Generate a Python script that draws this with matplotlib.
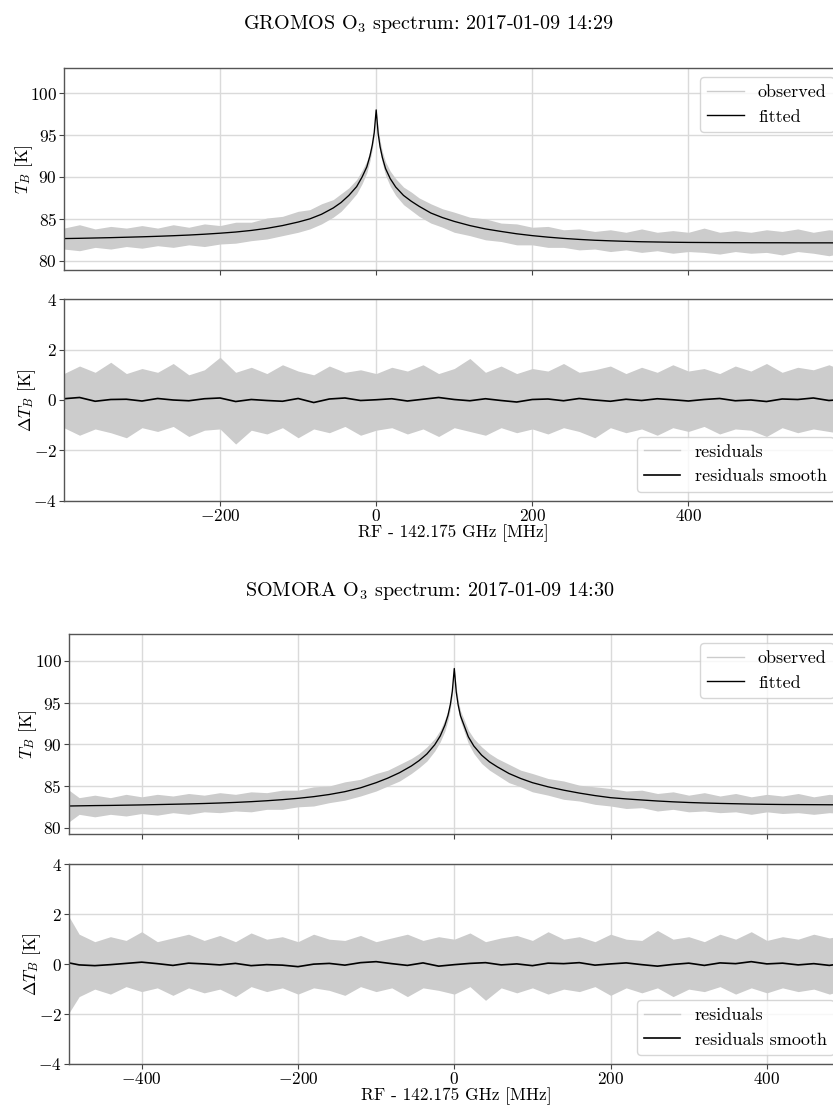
import matplotlib
matplotlib.use("Agg")
import matplotlib.pyplot as plt
from matplotlib.lines import Line2D

plt.rcParams['font.family'] = 'serif'
plt.rcParams['font.serif'] = ['cmr10']
plt.rcParams['mathtext.fontset'] = 'cm'
plt.rcParams['axes.formatter.use_mathtext'] = True
plt.rcParams['axes.unicode_minus'] = True

GRAY = '#cccccc'

# ---- GROMOS, 2017-01-09 14:29 ----
gromos_f = [-400, -380, -360, -340, -320, -300, -280, -260, -240, -220,
            -200, -180, -160, -140, -120, -100, -85, -70, -55, -45,
            -35, -25, -18, -12, -8, -5, -2.5, 0, 2.5, 5,
            8, 12, 18, 25, 35, 45, 55, 70, 85, 100,
            120, 140, 160, 180, 200, 220, 240, 260, 280, 300,
            320, 340, 360, 380, 400, 420, 440, 460, 480, 500,
            520, 540, 560, 580, 600]
gromos_fit = [82.65, 82.68, 82.72, 82.76, 82.81, 82.86, 82.92, 82.99, 83.07, 83.17,
              83.29, 83.43, 83.62, 83.87, 84.20, 84.62, 85.00, 85.55, 86.30, 86.95,
              87.80, 88.85, 90.00, 91.20, 92.50, 93.80, 95.30, 98.00, 95.20, 93.60,
              92.30, 91.00, 89.80, 88.80, 87.80, 87.10, 86.50, 85.70, 85.15, 84.70,
              84.20, 83.80, 83.50, 83.22, 83.00, 82.82, 82.67, 82.55, 82.45, 82.38,
              82.32, 82.27, 82.24, 82.21, 82.19, 82.18, 82.17, 82.16, 82.16, 82.15,
              82.15, 82.14, 82.14, 82.14, 82.13]
gromos_obs_hi = [83.9, 84.3, 83.8, 84.1, 83.9, 84.2, 83.9, 84.3, 84.0, 84.4,
                 84.2, 84.6, 84.6, 85.1, 85.3, 85.9, 86.1, 86.8, 87.3, 88.0,
                 88.7, 89.7, 90.8, 91.9, 93.1, 94.3, 95.8, 98.0, 95.8, 94.3,
                 93.0, 91.8, 90.7, 89.8, 88.8, 88.2, 87.5, 86.8, 86.2, 85.8,
                 85.2, 85.0, 84.5, 84.4, 84.0, 84.1, 83.7, 83.8, 83.5, 83.7,
                 83.4, 83.8, 83.4, 83.6, 83.4, 83.9, 83.4, 83.6, 83.4, 83.7,
                 83.5, 83.8, 83.4, 83.7, 83.5]
gromos_obs_lo = [81.4, 81.2, 81.6, 81.4, 81.7, 81.5, 81.8, 81.6, 81.9, 81.7,
                 82.0, 82.1, 82.4, 82.6, 83.0, 83.4, 83.8, 84.4, 85.2, 85.9,
                 86.9, 88.0, 89.2, 90.5, 91.9, 93.3, 94.9, 97.6, 94.7, 93.0,
                 91.6, 90.2, 88.9, 87.8, 86.7, 86.0, 85.3, 84.5, 84.0, 83.4,
                 83.0, 82.5, 82.3, 81.9, 81.9, 81.6, 81.6, 81.3, 81.4, 81.1,
                 81.3, 81.0, 81.2, 80.9, 81.1, 81.0, 80.8, 81.1, 80.9, 81.0,
                 80.7, 81.1, 80.9, 80.6, 81.0]

gromos_res_f = [-400, -380, -360, -340, -320, -300, -280, -260, -240, -220,
                -200, -180, -160, -140, -120, -100, -80, -60, -40, -20,
                0, 20, 40, 60, 80, 100, 120, 140, 160, 180,
                200, 220, 240, 260, 280, 300, 320, 340, 360, 380,
                400, 420, 440, 460, 480, 500, 520, 540, 560, 580, 600]
gromos_res_hi = [1.05, 1.35, 1.10, 1.50, 1.05, 1.25, 1.10, 1.45, 1.00, 1.20,
                 1.70, 1.10, 1.30, 1.05, 1.40, 1.15, 1.00, 1.35, 1.10, 1.20,
                 1.05, 1.30, 1.15, 1.40, 1.05, 1.25, 1.65, 1.10, 1.35, 1.05,
                 1.25, 1.15, 1.45, 1.10, 1.20, 1.35, 1.05, 1.30, 1.10, 1.40,
                 1.15, 1.25, 1.05, 1.35, 1.15, 1.45, 1.10, 1.30, 1.20, 1.40, 1.15]
gromos_res_lo = [-1.10, -1.40, -1.15, -1.30, -1.50, -1.10, -1.25, -1.05, -1.45, -1.20,
                 -1.15, -1.75, -1.20, -1.35, -1.10, -1.50, -1.15, -1.30, -1.05, -1.40,
                 -1.20, -1.10, -1.35, -1.15, -1.45, -1.10, -1.25, -1.40, -1.10, -1.30,
                 -1.15, -1.35, -1.10, -1.25, -1.50, -1.10, -1.30, -1.15, -1.40, -1.10,
                 -1.25, -1.05, -1.35, -1.15, -1.20, -1.45, -1.10, -1.30, -1.15, -1.25, -1.35]
gromos_res_smooth = [0.05, 0.10, -0.05, 0.02, 0.03, -0.04, 0.06, 0.00, -0.03, 0.05,
                     0.08, -0.06, 0.02, -0.02, -0.05, 0.06, -0.10, 0.04, 0.08, -0.02,
                     0.01, 0.05, -0.04, 0.03, 0.10, 0.02, -0.03, 0.05, -0.02, -0.08,
                     0.02, 0.04, -0.03, 0.06, 0.00, -0.05, 0.03, -0.02, 0.05, 0.01,
                     -0.04, 0.02, 0.06, -0.03, 0.00, -0.06, 0.04, 0.02, 0.08, -0.02, 0.03]

# ---- SOMORA, 2017-01-09 14:30 ----
somora_f = [-493, -480, -460, -440, -420, -400, -380, -360, -340, -320,
            -300, -280, -260, -240, -220, -200, -180, -160, -140, -120,
            -100, -85, -70, -55, -45, -35, -25, -18, -12, -8,
            -5, -2.5, 0, 2.5, 5, 8, 12, 18, 25, 35,
            45, 55, 70, 85, 100, 120, 140, 160, 180, 200,
            220, 240, 260, 280, 300, 320, 340, 360, 380, 400,
            420, 440, 460, 480, 497]
somora_fit = [82.60, 82.62, 82.65, 82.67, 82.70, 82.73, 82.77, 82.81, 82.85, 82.90,
              82.96, 83.03, 83.12, 83.23, 83.36, 83.52, 83.72, 83.98, 84.32, 84.78,
              85.40, 85.95, 86.60, 87.40, 88.05, 88.85, 89.95, 91.00, 92.30, 93.50,
              94.80, 96.40, 99.10, 96.30, 94.70, 93.40, 92.40, 90.90, 89.80, 88.70,
              87.90, 87.30, 86.50, 85.90, 85.40, 84.90, 84.50, 84.15, 83.85, 83.60,
              83.45, 83.32, 83.20, 83.10, 83.02, 82.96, 82.91, 82.87, 82.83, 82.80,
              82.78, 82.77, 82.76, 82.75, 82.75]
somora_obs_hi = [84.5, 83.6, 83.9, 83.6, 84.0, 83.7, 84.0, 83.8, 84.1, 83.9,
                 84.2, 84.0, 84.3, 84.2, 84.5, 84.5, 84.9, 85.0, 85.5, 85.8,
                 86.5, 86.9, 87.6, 88.3, 88.9, 89.7, 90.7, 91.7, 93.0, 94.1,
                 95.3, 96.9, 99.1, 96.9, 95.3, 94.0, 93.1, 91.7, 90.7, 89.7,
                 88.9, 88.3, 87.6, 86.9, 86.5, 85.9, 85.6, 85.1, 84.9, 84.7,
                 84.4, 84.5, 84.1, 84.3, 83.9, 84.2, 83.8, 84.1, 83.7, 84.0,
                 83.8, 84.1, 83.7, 84.0, 83.8]
somora_obs_lo = [80.7, 81.6, 81.3, 81.6, 81.4, 81.7, 81.5, 81.8, 81.6, 81.9,
                 81.8, 82.0, 81.9, 82.2, 82.2, 82.5, 82.6, 83.0, 83.3, 83.8,
                 84.4, 85.0, 85.6, 86.5, 87.2, 88.0, 89.2, 90.3, 91.6, 92.9,
                 94.3, 95.9, 98.7, 95.8, 94.1, 92.8, 91.7, 90.1, 88.9, 87.7,
                 86.9, 86.3, 85.4, 84.9, 84.3, 83.9, 83.4, 83.2, 82.8, 82.6,
                 82.3, 82.4, 82.0, 82.2, 81.9, 82.0, 81.8, 81.9, 81.6, 81.9,
                 81.7, 81.8, 81.6, 81.8, 81.7]

somora_res_f = [-493, -480, -460, -440, -420, -400, -380, -360, -340, -320,
                -300, -280, -260, -240, -220, -200, -180, -160, -140, -120,
                -100, -80, -60, -40, -20, 0, 20, 40, 60, 80,
                100, 120, 140, 160, 180, 200, 220, 240, 260, 280,
                300, 320, 340, 360, 380, 400, 420, 440, 460, 480, 497]
somora_res_hi = [1.90, 1.20, 0.90, 1.10, 0.95, 1.30, 0.90, 1.05, 1.20, 0.95,
                 1.15, 0.90, 1.25, 1.00, 1.10, 0.90, 1.20, 1.00, 0.95, 1.15,
                 0.90, 1.05, 1.20, 0.95, 1.10, 1.00, 1.25, 0.90, 1.05, 1.15,
                 0.95, 1.30, 1.00, 1.10, 0.90, 1.20, 1.00, 0.95, 1.35, 1.00,
                 1.10, 0.90, 1.20, 1.00, 1.30, 0.95, 1.10, 1.00, 1.20, 1.05, 1.15]
somora_res_lo = [-1.95, -1.30, -1.00, -1.20, -0.90, -1.10, -0.95, -1.25, -0.95, -1.15,
                 -1.00, -1.30, -0.90, -1.10, -0.95, -1.20, -0.95, -1.05, -1.25, -0.90,
                 -1.10, -0.95, -1.30, -0.95, -1.05, -1.20, -0.90, -1.45, -0.95, -1.15,
                 -0.95, -1.20, -1.00, -1.10, -0.90, -1.25, -0.95, -1.15, -0.95, -1.30,
                 -1.00, -1.10, -0.90, -1.20, -0.95, -1.15, -0.95, -1.10, -1.00, -1.20, -1.05]
somora_res_smooth = [0.05, -0.03, -0.06, -0.02, 0.03, 0.08, 0.02, -0.05, 0.04, 0.01,
                     -0.03, 0.03, -0.06, -0.02, -0.04, -0.10, 0.00, 0.03, -0.04, 0.06,
                     0.10, 0.02, -0.05, 0.05, -0.08, -0.02, 0.03, 0.06, -0.03, 0.01,
                     -0.06, 0.04, 0.02, 0.06, -0.04, 0.01, 0.05, -0.02, -0.08, -0.01,
                     0.04, -0.05, 0.05, 0.02, 0.10, 0.01, 0.04, -0.03, 0.02, -0.05, 0.03]

FS = 12.5
LEG_FS = 13


def style_axes(ax):
    ax.set_axisbelow(True)
    ax.grid(True, color='#dadada', lw=1.0)
    for sp in ax.spines.values():
        sp.set_color('#555555')
        sp.set_linewidth(1.0)
    ax.tick_params(direction='out', length=3.5, width=0.8, color='#444444',
                   labelsize=FS, pad=1.5)


def draw_section(ax_tb, ax_res, f, fit, hi, lo, rf, rhi, rlo, rsm, xlim, ylim_tb):
    # brightness temperature: observed band + fit
    ax_tb.fill_between(f, lo, hi, color=GRAY, lw=0)
    ax_tb.plot(f, fit, color='black', lw=0.95)
    ax_tb.set_xlim(xlim)
    ax_tb.set_ylim(ylim_tb)
    ax_tb.set_yticks([80, 85, 90, 95, 100])
    ax_tb.tick_params(labelbottom=False)
    ax_tb.set_ylabel('$T_B$ [K]', fontsize=FS, labelpad=-3.5)
    style_axes(ax_tb)
    handles = [Line2D([], [], color=GRAY, lw=1.0, label='observed'),
               Line2D([], [], color='black', lw=1.0, label='fitted')]
    ax_tb.legend(handles=handles, loc='upper right', fontsize=LEG_FS)

    # residuals
    ax_res.fill_between(rf, rlo, rhi, color=GRAY, lw=0)
    ax_res.plot(rf, rsm, color='black', lw=1.2)
    ax_res.set_xlim(xlim)
    ax_res.set_ylim(-4, 4)
    ax_res.set_yticks([-4, -2, 0, 2, 4])
    ax_res.set_ylabel(r'$\Delta T_B$ [K]', fontsize=FS, labelpad=-3.5)
    ax_res.set_xlabel('RF - 142.175 GHz [MHz]', fontsize=FS, labelpad=0.5)
    style_axes(ax_res)
    handles = [Line2D([], [], color=GRAY, lw=1.0, label='residuals'),
               Line2D([], [], color='black', lw=1.2, label='residuals smooth')]
    ax_res.legend(handles=handles, loc='lower right', fontsize=LEG_FS)


W, H = 833, 1105
fig = plt.figure(figsize=(W / 100, H / 100), dpi=100)


def px_axes(left, top, right, bottom):
    return fig.add_axes([left / W, 1 - bottom / H, (right - left) / W, (bottom - top) / H])


ax1 = px_axes(64, 68, 843, 270)
ax2 = px_axes(64, 299.3, 843, 500.7)
ax3 = px_axes(68.7, 634, 843, 834)
ax4 = px_axes(68.7, 864.3, 843, 1064)

draw_section(ax1, ax2, gromos_f, gromos_fit, gromos_obs_hi, gromos_obs_lo,
             gromos_res_f, gromos_res_hi, gromos_res_lo, gromos_res_smooth,
             (-399.9, 598), (78.9, 103.0))
draw_section(ax3, ax4, somora_f, somora_fit, somora_obs_hi, somora_obs_lo,
             somora_res_f, somora_res_hi, somora_res_lo, somora_res_smooth,
             (-493.4, 497.4), (79.24, 103.24))

fig.text(428 / W, 1 - 29 / H, 'GROMOS O$_3$ spectrum: 2017-01-09 14:29',
         ha='center', va='baseline', fontsize=14.5)
fig.text(430 / W, 1 - 596 / H, 'SOMORA O$_3$ spectrum: 2017-01-09 14:30',
         ha='center', va='baseline', fontsize=14.5)

fig.savefig('out.png', dpi=100)
